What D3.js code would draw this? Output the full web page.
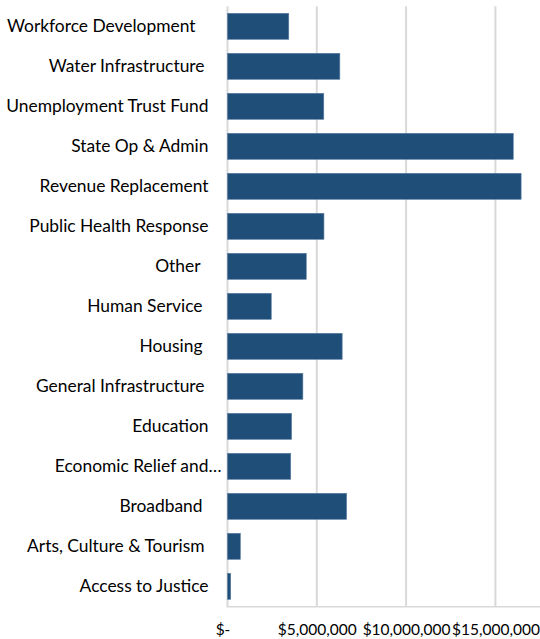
<!DOCTYPE html>
<html>
<head>
<meta charset="utf-8">
<script src="https://cdn.jsdelivr.net/npm/d3@7"></script>
<style>
  html, body { margin: 0; padding: 0; background: #ffffff; }
  svg { display: block; }
  text { font-family: Lato, "Open Sans", sans-serif; fill: #000; }
</style>
</head>
<body>
<svg id="chart" width="540" height="639"></svg>
<script>
// Program spending by category (USD)
const categories = [
  "Workforce Development", "Water Infrastructure", "Unemployment Trust Fund",
  "State Op & Admin", "Revenue Replacement", "Public Health Response", "Other",
  "Human Service", "Housing", "General Infrastructure", "Education",
  "Economic Relief and…", "Broadband", "Arts, Culture & Tourism", "Access to Justice"
];
const amounts = [
  3430000, 6290000, 5390000,
  16000000, 16440000, 5400000, 4410000,
  2450000, 6420000, 4220000, 3590000,
  3540000, 6670000, 720000, 180000
];
// Trailing padding (in px) some category labels carry after the text
const labelPad = [13, 4, 0, 0, 0, 0, 8, 6, 6, 4, 0, -13, 6, 4, 0];
const tickValues = [0, 5000000, 10000000, 15000000];
const tickLabels = ["$-", "$5,000,000", "$10,000,000", "$15,000,000"];

const svg = d3.select("#chart");
const x0 = 227.5, plotTop = 6.3, plotBottom = 606.3;

const x = d3.scaleLinear().domain([0, 20000000]).range([x0, x0 + 4 * 89.3]);
const y = d3.scaleBand().domain(categories).range([plotTop, plotBottom]).paddingInner(0.35).paddingOuter(0.175);

// Vertical gridlines
svg.append("g").selectAll("line").data(tickValues).join("line")
  .attr("x1", d => x(d)).attr("x2", d => x(d))
  .attr("y1", plotTop).attr("y2", plotBottom)
  .attr("stroke", "#d9d9d9").attr("stroke-width", 2);

// Baseline of the value axis
svg.append("line")
  .attr("x1", x0 - 1).attr("x2", 540)
  .attr("y1", plotBottom + 0.5).attr("y2", plotBottom + 0.5)
  .attr("stroke", "#d9d9d9").attr("stroke-width", 1.5);

// Bars
svg.append("g").selectAll("rect").data(categories).join("rect")
  .attr("x", x(0))
  .attr("y", d => y(d))
  .attr("width", (d, i) => x(amounts[i]) - x(0))
  .attr("height", y.bandwidth())
  .attr("fill", "#1f4e79")
  .attr("stroke", "#5a7fa3").attr("stroke-width", 0.6);

// Category labels
svg.append("g").selectAll("text").data(categories).join("text")
  .attr("x", (d, i) => 208.5 - labelPad[i])
  .attr("y", d => y(d) + y.bandwidth() / 2)
  .attr("dy", "0.35em")
  .attr("text-anchor", "end")
  .attr("font-size", 17.4)
  .text(d => d);

// Value axis tick labels
const xAxis = d3.axisBottom(x).tickValues(tickValues)
  .tickFormat((d, i) => tickLabels[i]).tickSize(0).tickPadding(0);
const ax = svg.append("g").attr("transform", `translate(0, 630)`).call(xAxis);
ax.select(".domain").remove();
ax.selectAll("text")
  .attr("font-size", 15.5)
  .attr("font-family", "Lato, 'Open Sans', sans-serif")
  .attr("fill", "#000")
  .attr("y", 0).attr("dy", "0.35em")
  .attr("dx", d => d === 0 ? -5 : 0);
</script>
</body>
</html>
